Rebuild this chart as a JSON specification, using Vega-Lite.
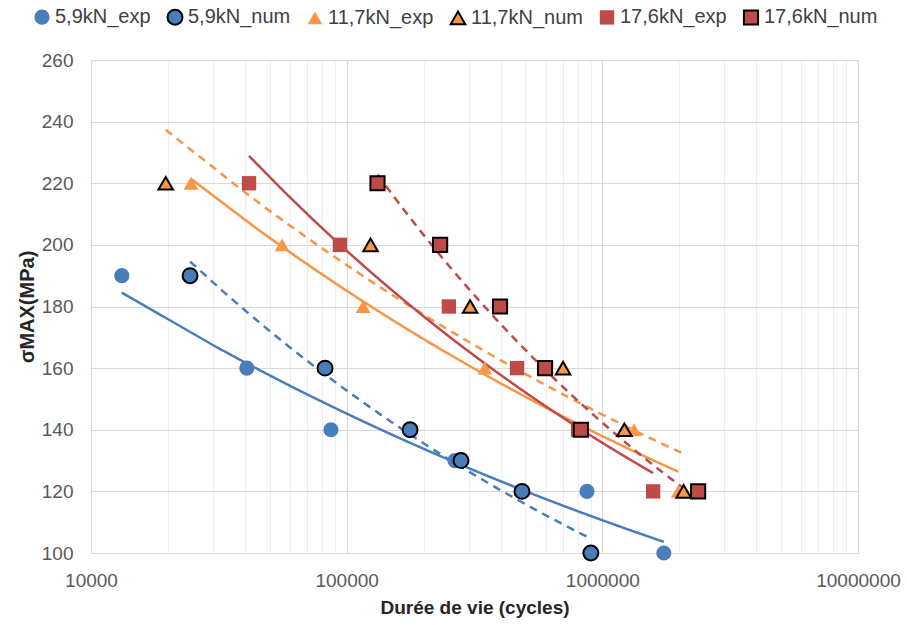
{
  "$schema": "https://vega.github.io/schema/vega-lite/v6.json",
  "width": 767,
  "height": 493,
  "autosize": "none",
  "padding": {"left": 91, "top": 60, "right": 49, "bottom": 72},
  "background": "white",
  "config": {
    "font": "Liberation Sans",
    "view": {"stroke": null},
    "axis": {
      "labelFont": "Liberation Sans",
      "labelFontSize": 19,
      "labelColor": "#595959",
      "titleFont": "Liberation Sans",
      "titleFontSize": 19,
      "titleFontWeight": "bold",
      "titleColor": "#262626",
      "domain": false,
      "ticks": false,
      "gridWidth": 1.2
    },
    "legend": {
      "labelFont": "Liberation Sans",
      "labelFontSize": 20,
      "labelColor": "#404040",
      "symbolSize": 190,
      "symbolStrokeWidth": 2,
      "columnPadding": 12,
      "labelOffset": 3
    }
  },
  "resolve": {"legend": {"color": "independent", "strokeDash": "independent", "shape": "independent", "stroke": "independent", "size": "independent"}},
  "data": {
    "values": [
      {"series": "5,9kN_exp", "x": 13200, "y": 190},
      {"series": "5,9kN_exp", "x": 40700, "y": 160},
      {"series": "5,9kN_exp", "x": 86800, "y": 140},
      {"series": "5,9kN_exp", "x": 265000, "y": 130},
      {"series": "5,9kN_exp", "x": 871000, "y": 120},
      {"series": "5,9kN_exp", "x": 1740000, "y": 100},
      {"series": "5,9kN_num", "x": 24400, "y": 190},
      {"series": "5,9kN_num", "x": 82300, "y": 160},
      {"series": "5,9kN_num", "x": 177000, "y": 140},
      {"series": "5,9kN_num", "x": 280000, "y": 130},
      {"series": "5,9kN_num", "x": 485000, "y": 120},
      {"series": "5,9kN_num", "x": 902000, "y": 100},
      {"series": "11,7kN_exp", "x": 24600, "y": 220},
      {"series": "11,7kN_exp", "x": 55900, "y": 200},
      {"series": "11,7kN_exp", "x": 116000, "y": 180},
      {"series": "11,7kN_exp", "x": 347000, "y": 160},
      {"series": "11,7kN_exp", "x": 1330000, "y": 140},
      {"series": "11,7kN_exp", "x": 1980000, "y": 120},
      {"series": "11,7kN_num", "x": 19600, "y": 220},
      {"series": "11,7kN_num", "x": 124000, "y": 200},
      {"series": "11,7kN_num", "x": 304000, "y": 180},
      {"series": "11,7kN_num", "x": 702000, "y": 160},
      {"series": "11,7kN_num", "x": 1220000, "y": 140},
      {"series": "11,7kN_num", "x": 2080000, "y": 120},
      {"series": "17,6kN_exp", "x": 41500, "y": 220},
      {"series": "17,6kN_exp", "x": 94100, "y": 200},
      {"series": "17,6kN_exp", "x": 251000, "y": 180},
      {"series": "17,6kN_exp", "x": 464000, "y": 160},
      {"series": "17,6kN_exp", "x": 804000, "y": 140},
      {"series": "17,6kN_exp", "x": 1580000, "y": 120},
      {"series": "17,6kN_num", "x": 132000, "y": 220},
      {"series": "17,6kN_num", "x": 232000, "y": 200},
      {"series": "17,6kN_num", "x": 398000, "y": 180},
      {"series": "17,6kN_num", "x": 597000, "y": 160},
      {"series": "17,6kN_num", "x": 824000, "y": 140},
      {"series": "17,6kN_num", "x": 2370000, "y": 120}
    ]
  },
  "encoding": {
    "x": {
      "field": "x",
      "type": "quantitative",
      "scale": {"type": "log", "domain": [10000, 10000000], "nice": false},
      "axis": {
        "title": "Durée de vie (cycles)",
        "values": [10000, 20000, 30000, 40000, 50000, 60000, 70000, 80000, 90000, 100000, 200000, 300000, 400000, 500000, 600000, 700000, 800000, 900000, 1000000, 2000000, 3000000, 4000000, 5000000, 6000000, 7000000, 8000000, 9000000, 10000000],
        "labelExpr": "datum.value == 10000 || datum.value == 100000 || datum.value == 1000000 || datum.value == 10000000 ? format(datum.value, 'd') : ''",
        "labelPadding": 18,
        "titlePadding": 8,
        "gridColor": {"condition": {"test": "datum.value == 10000 || datum.value == 100000 || datum.value == 1000000 || datum.value == 10000000", "value": "#d9d9d9"}, "value": "#eeeeee"},
        "labelFlush": false,
        "labelOverlap": false
      }
    },
    "y": {
      "field": "y",
      "type": "quantitative",
      "scale": {"domain": [100, 260], "nice": false, "zero": false},
      "axis": {
        "title": "σMAX(MPa)",
        "values": [100, 120, 140, 160, 180, 200, 220, 240, 260],
        "labelPadding": 18,
        "titlePadding": 4,
        "titleFontSize": 20,
        "gridColor": "#d9d9d9"
      }
    }
  },
  "layer": [
    {
      "transform": [
        {"regression": "y", "on": "x", "groupby": ["series"], "method": "pow"}
      ],
      "mark": {"type": "line", "strokeWidth": 2.5},
      "encoding": {
        "color": {
          "field": "series",
          "type": "nominal",
          "scale": {
            "domain": ["5,9kN_exp", "5,9kN_num", "11,7kN_exp", "11,7kN_num", "17,6kN_exp", "17,6kN_num"],
            "range": ["#4a7ebb", "#4a7ebb", "#f79646", "#f79646", "#be4b48", "#be4b48"]
          },
          "legend": null
        },
        "strokeDash": {
          "field": "series",
          "type": "nominal",
          "scale": {
            "domain": ["5,9kN_exp", "5,9kN_num", "11,7kN_exp", "11,7kN_num", "17,6kN_exp", "17,6kN_num"],
            "range": [[1, 0], [8, 6], [1, 0], [8, 6], [1, 0], [8, 6]]
          },
          "legend": null
        }
      }
    },
    {
      "mark": {"type": "point", "filled": true, "opacity": 1, "strokeWidth": 2},
      "encoding": {
        "size": {
          "field": "series",
          "type": "nominal",
          "scale": {
            "domain": ["5,9kN_exp", "5,9kN_num", "11,7kN_exp", "11,7kN_num", "17,6kN_exp", "17,6kN_num"],
            "range": [230, 200, 330, 300, 260, 230]
          },
          "legend": null
        },
        "color": {
          "field": "series",
          "type": "nominal",
          "scale": {
            "domain": ["5,9kN_exp", "5,9kN_num", "11,7kN_exp", "11,7kN_num", "17,6kN_exp", "17,6kN_num"],
            "range": ["#4a7ebb", "#4a7ebb", "#f79646", "#f79646", "#be4b48", "#be4b48"]
          },
          "legend": {
            "title": null,
            "orient": "none",
            "direction": "horizontal",
            "legendX": -59,
            "legendY": -53
          }
        },
        "shape": {
          "field": "series",
          "type": "nominal",
          "scale": {
            "domain": ["5,9kN_exp", "5,9kN_num", "11,7kN_exp", "11,7kN_num", "17,6kN_exp", "17,6kN_num"],
            "range": ["circle", "circle", "triangle-up", "triangle-up", "square", "square"]
          },
          "legend": {
            "title": null,
            "orient": "none",
            "direction": "horizontal",
            "legendX": -59,
            "legendY": -53
          }
        },
        "stroke": {
          "field": "series",
          "type": "nominal",
          "scale": {
            "domain": ["5,9kN_exp", "5,9kN_num", "11,7kN_exp", "11,7kN_num", "17,6kN_exp", "17,6kN_num"],
            "range": ["transparent", "#000000", "transparent", "#000000", "transparent", "#000000"]
          },
          "legend": {
            "title": null,
            "orient": "none",
            "direction": "horizontal",
            "legendX": -59,
            "legendY": -53
          }
        }
      }
    }
  ]
}
